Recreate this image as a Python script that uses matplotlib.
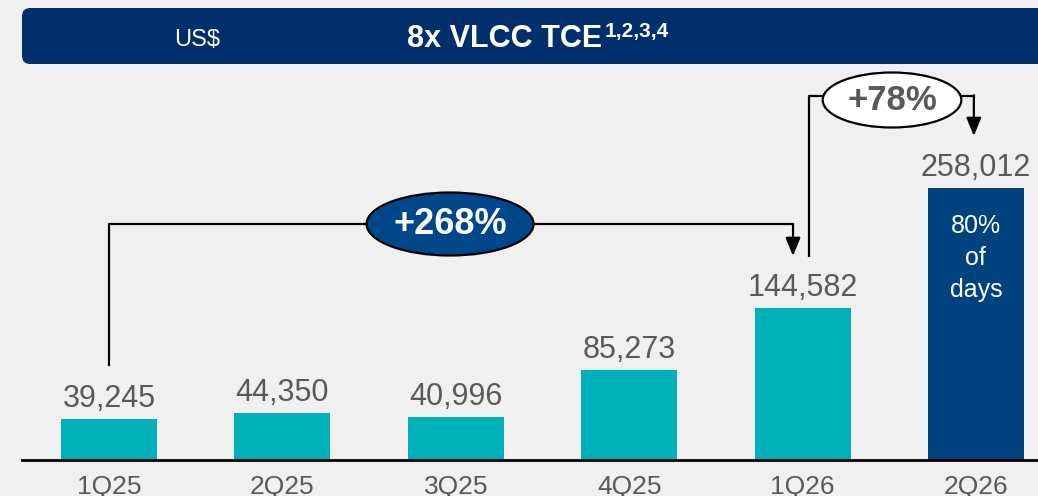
import numpy as np
import matplotlib.pyplot as plt
from matplotlib.patches import Ellipse, FancyBboxPatch

plt.rcParams['font.family'] = ['Liberation Sans', 'DejaVu Sans']

# --- data ---
quarters = ['1Q25', '2Q25', '3Q25', '4Q25', '1Q26', '2Q26']
tce = [39245, 44350, 40996, 85273, 144582, 258012]
bar_colors = ['#00b0b9', '#00b0b9', '#00b0b9', '#00b0b9', '#00b0b9', '#00417f']
growth_labels = ['+268%', '+78%']

BG = '#f0f0f0'
NAVY_HDR = '#002f6c'
GREY = '#595959'

# --- figure / axes ---
W_PX, H_PX = 1038, 496
fig = plt.figure(figsize=(W_PX / 100, H_PX / 100), dpi=100, facecolor=BG)

px_per_unit = 272 / 258012.0          # bar pixels per US$
ax_bottom_px, ax_top_px = 36, 426       # from figure bottom
ax = fig.add_axes([22 / W_PX, ax_bottom_px / H_PX, 1016 / W_PX, (ax_top_px - ax_bottom_px) / H_PX])
ax.set_facecolor('none')
ax.set_xlim(-0.502, 5.358)
ax.set_ylim(0, (ax_top_px - ax_bottom_px) / px_per_unit)

x = np.arange(len(quarters))
bars = ax.bar(x, tce, width=0.554, color=bar_colors, zorder=2)

for xi, v in zip(x, tce):
    ax.annotate(f'{v:,}', (xi, v), xytext=(0, 3.5), textcoords='offset points',
                ha='center', va='bottom', fontsize=22, color=GREY)

# text inside the last bar
ax.text(x[-1], tce[-1] - 26 / px_per_unit, '80%\nof\ndays', ha='center', va='top',
        fontsize=18, color='white', linespacing=1.42)

ax.set_xticks(x, quarters)
ax.tick_params(axis='x', length=0, pad=11, labelsize=19, labelcolor=GREY)
ax.set_yticks([])
for s in ['top', 'left', 'right']:
    ax.spines[s].set_visible(False)
ax.spines['bottom'].set_linewidth(2)
ax.spines['bottom'].set_color('black')


def to_y(px):
    # pixel row in reference (from top) -> data value
    return (460 - px) / px_per_unit


arrow_kw = dict(arrowstyle='-|>,head_length=1.1,head_width=0.45', color='black',
                lw=1.6, shrinkA=0, shrinkB=0)

# --- bracket 1Q25 -> 1Q26 ---
lvl1 = to_y(224)
x_right1 = x[4] - 0.055
ax.plot([x[0], x[0], x_right1], [to_y(365), lvl1, lvl1], color='black', lw=1.6, clip_on=False, zorder=3)
ax.annotate('', xy=(x_right1, to_y(256)), xytext=(x_right1, lvl1), arrowprops=arrow_kw, zorder=3)
e1 = Ellipse((1.967, lvl1), 0.963, 63 / px_per_unit, facecolor='#00468b', edgecolor='black',
             lw=1.6, zorder=4, clip_on=False)
ax.add_patch(e1)
ax.text(1.967, lvl1, growth_labels[0], ha='center', va='center', fontsize=26,
        fontweight='bold', color='white', zorder=5)

# --- bracket 1Q26 -> 2Q26 ---
lvl2 = to_y(96)
x_left2 = x[4] + 0.037
ax.plot([x_left2, x_left2, x[5] - 0.012], [to_y(256), lvl2, lvl2], color='black', lw=1.6,
        clip_on=False, zorder=3)
ax.annotate('', xy=(x[5] - 0.012, to_y(136)), xytext=(x[5] - 0.012, lvl2 + 0.8 / px_per_unit),
            arrowprops=arrow_kw, zorder=3, annotation_clip=False)
e2 = Ellipse((4.516, to_y(100)), 0.80, 55 / px_per_unit, facecolor='white', edgecolor='black',
             lw=1.6, zorder=4, clip_on=False)
ax.add_patch(e2)
ax.text(4.516, to_y(100), growth_labels[1], ha='center', va='center', fontsize=25,
        fontweight='bold', color=GREY, zorder=5)

# --- header band ---
hdr = FancyBboxPatch((22 / W_PX, (H_PX - 64) / H_PX), 1.2, 56 / H_PX,
                     boxstyle='round,pad=0,rounding_size=0.008',
                     transform=fig.transFigure, facecolor=NAVY_HDR, edgecolor='none',
                     mutation_aspect=W_PX / H_PX)
fig.patches.append(hdr)
fig.text(197 / W_PX, (H_PX - 40) / H_PX, 'US$', ha='center', va='center', fontsize=17, color='white')
title = fig.text(407 / W_PX, (H_PX - 39) / H_PX, '8x VLCC TCE', ha='left', va='center',
                 fontsize=22, fontweight='bold', color='white')
r = fig.canvas.get_renderer()
bb = title.get_window_extent(renderer=r)
fig.text(bb.x1 / W_PX + 0.002, (H_PX - 31) / H_PX, '1,2,3,4', ha='left', va='center',
         fontsize=15, fontweight='bold', color='white')

fig.savefig('out.png', dpi=100, facecolor=BG)
